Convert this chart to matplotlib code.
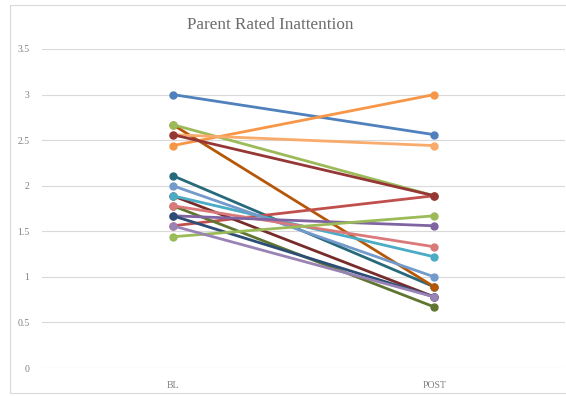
import matplotlib.pyplot as plt
from matplotlib.patches import Rectangle

categories = ["BL", "POST"]

# one participant per series: (BL, POST), listed in drawing order
bl_values = [3.00, 2.44, 2.11, 2.67, 2.67, 1.56, 2.56, 2.56, 1.89,
             1.89, 2.00, 1.78, 1.78, 1.67, 1.67, 1.44, 1.56]
post_values = [2.56, 3.00, 0.89, 0.89, 1.89, 1.89, 2.44, 1.89, 0.78,
               1.22, 1.00, 0.67, 1.33, 1.56, 0.78, 1.67, 0.78]
colors = ["#4F81BD", "#F79646", "#276A7C", "#B65708", "#9BBB59", "#C0504D",
          "#F9AB6B", "#953735", "#772C2A", "#4BACC6", "#729ACA", "#5F7530",
          "#D9797A", "#8064A2", "#2C4D75", "#9BBB59", "#9983B5"]

yticks = [0, 0.5, 1, 1.5, 2, 2.5, 3, 3.5]
ytick_labels = ["0", "0.5", "1", "1.5", "2", "2.5", "3", "3.5"]

fig = plt.figure(figsize=(5.66, 3.96), dpi=100)
fig.patches.append(Rectangle((10 / 566, 3 / 396), 600 / 566, 388 / 396,
                             transform=fig.transFigure, fill=False,
                             edgecolor="#D9D9D9", linewidth=0.8))

ax = fig.add_axes([42 / 566, 28 / 396, 523 / 566, 319 / 396])

x = list(range(len(categories)))
for b, p, c in zip(bl_values, post_values, colors):
    ax.plot(x, [b, p], color=c, linewidth=2, marker="o", markersize=5,
            solid_capstyle="round", zorder=3)

ax.set_xlim(-0.5, 1.5)
ax.set_ylim(0, 3.5)
ax.set_yticks(yticks)
ax.set_yticklabels(ytick_labels)
ax.set_xticks(x)
ax.set_xticklabels(categories)
ax.grid(axis="y", color="#D9D9D9", linewidth=0.8)
ax.set_axisbelow(True)
for s in ax.spines.values():
    s.set_visible(False)
ax.tick_params(length=0, labelsize=7, colors="#808080", pad=9)
for lab in ax.get_xticklabels() + ax.get_yticklabels():
    lab.set_family("Liberation Serif")

fig.text(270 / 566, 1 - 25 / 396, "Parent Rated Inattention",
         family="Liberation Serif", fontsize=12.3, color="#6B6B6B",
         ha="center", va="center")

fig.savefig("out.png", dpi=100)
